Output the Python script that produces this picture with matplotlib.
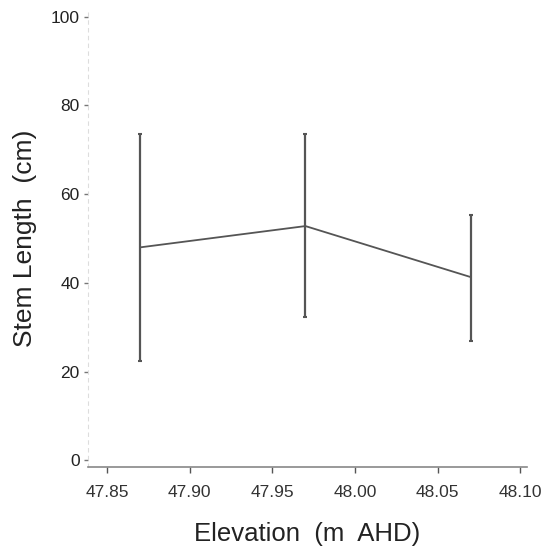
import numpy as np
import matplotlib
matplotlib.use("Agg")
import matplotlib.pyplot as plt

plt.rcParams['font.family'] = ['Liberation Sans', 'DejaVu Sans']

# data
elevation = [47.87, 47.97, 48.07]
stem_mean = [48.0, 52.8, 41.3]
stem_low = [22.4, 32.3, 27.0]
stem_high = [73.6, 73.6, 55.2]
xticks = [47.85, 47.90, 47.95, 48.00, 48.05, 48.10]
yticks = [0, 20, 40, 60, 80, 100]

mean = np.array(stem_mean)
yerr = [mean - np.array(stem_low), np.array(stem_high) - mean]

fig = plt.figure(figsize=(5.44, 5.55), dpi=100)
ax = fig.add_axes([88/544, (555-467)/555, (527-88)/544, (467-10)/555])

ax.errorbar(elevation, stem_mean, yerr=yerr, color='#555555', lw=1.3,
            elinewidth=1.6, capsize=1.5, capthick=1.5)

ax.set_xlim(47.8385, 48.104)
ax.set_ylim(-1.5, 101.5)
ax.set_xticks(xticks)
ax.set_xticklabels(['%.2f' % v for v in xticks])
ax.set_yticks(yticks)

for s in ['top', 'right']:
    ax.spines[s].set_visible(False)
ax.spines['left'].set_color('#dddddd')
ax.spines['left'].set_linestyle((0, (3, 4)))
ax.spines['bottom'].set_color('#888888')
ax.spines['bottom'].set_linewidth(1.2)

ax.tick_params(axis='y', length=3, width=1, color='#777777', labelsize=12.5,
               labelcolor='#222222', pad=3)
ax.tick_params(axis='x', length=4, width=1, color='#555555', labelsize=12.5,
               labelcolor='#333333', pad=9)

ax.set_xlabel('Elevation  (m  AHD)', fontsize=18.5, color='#222222', labelpad=16)
ax.set_ylabel('Stem Length  (cm)', fontsize=19, color='#222222', labelpad=10)

fig.savefig('out.png', dpi=100)
